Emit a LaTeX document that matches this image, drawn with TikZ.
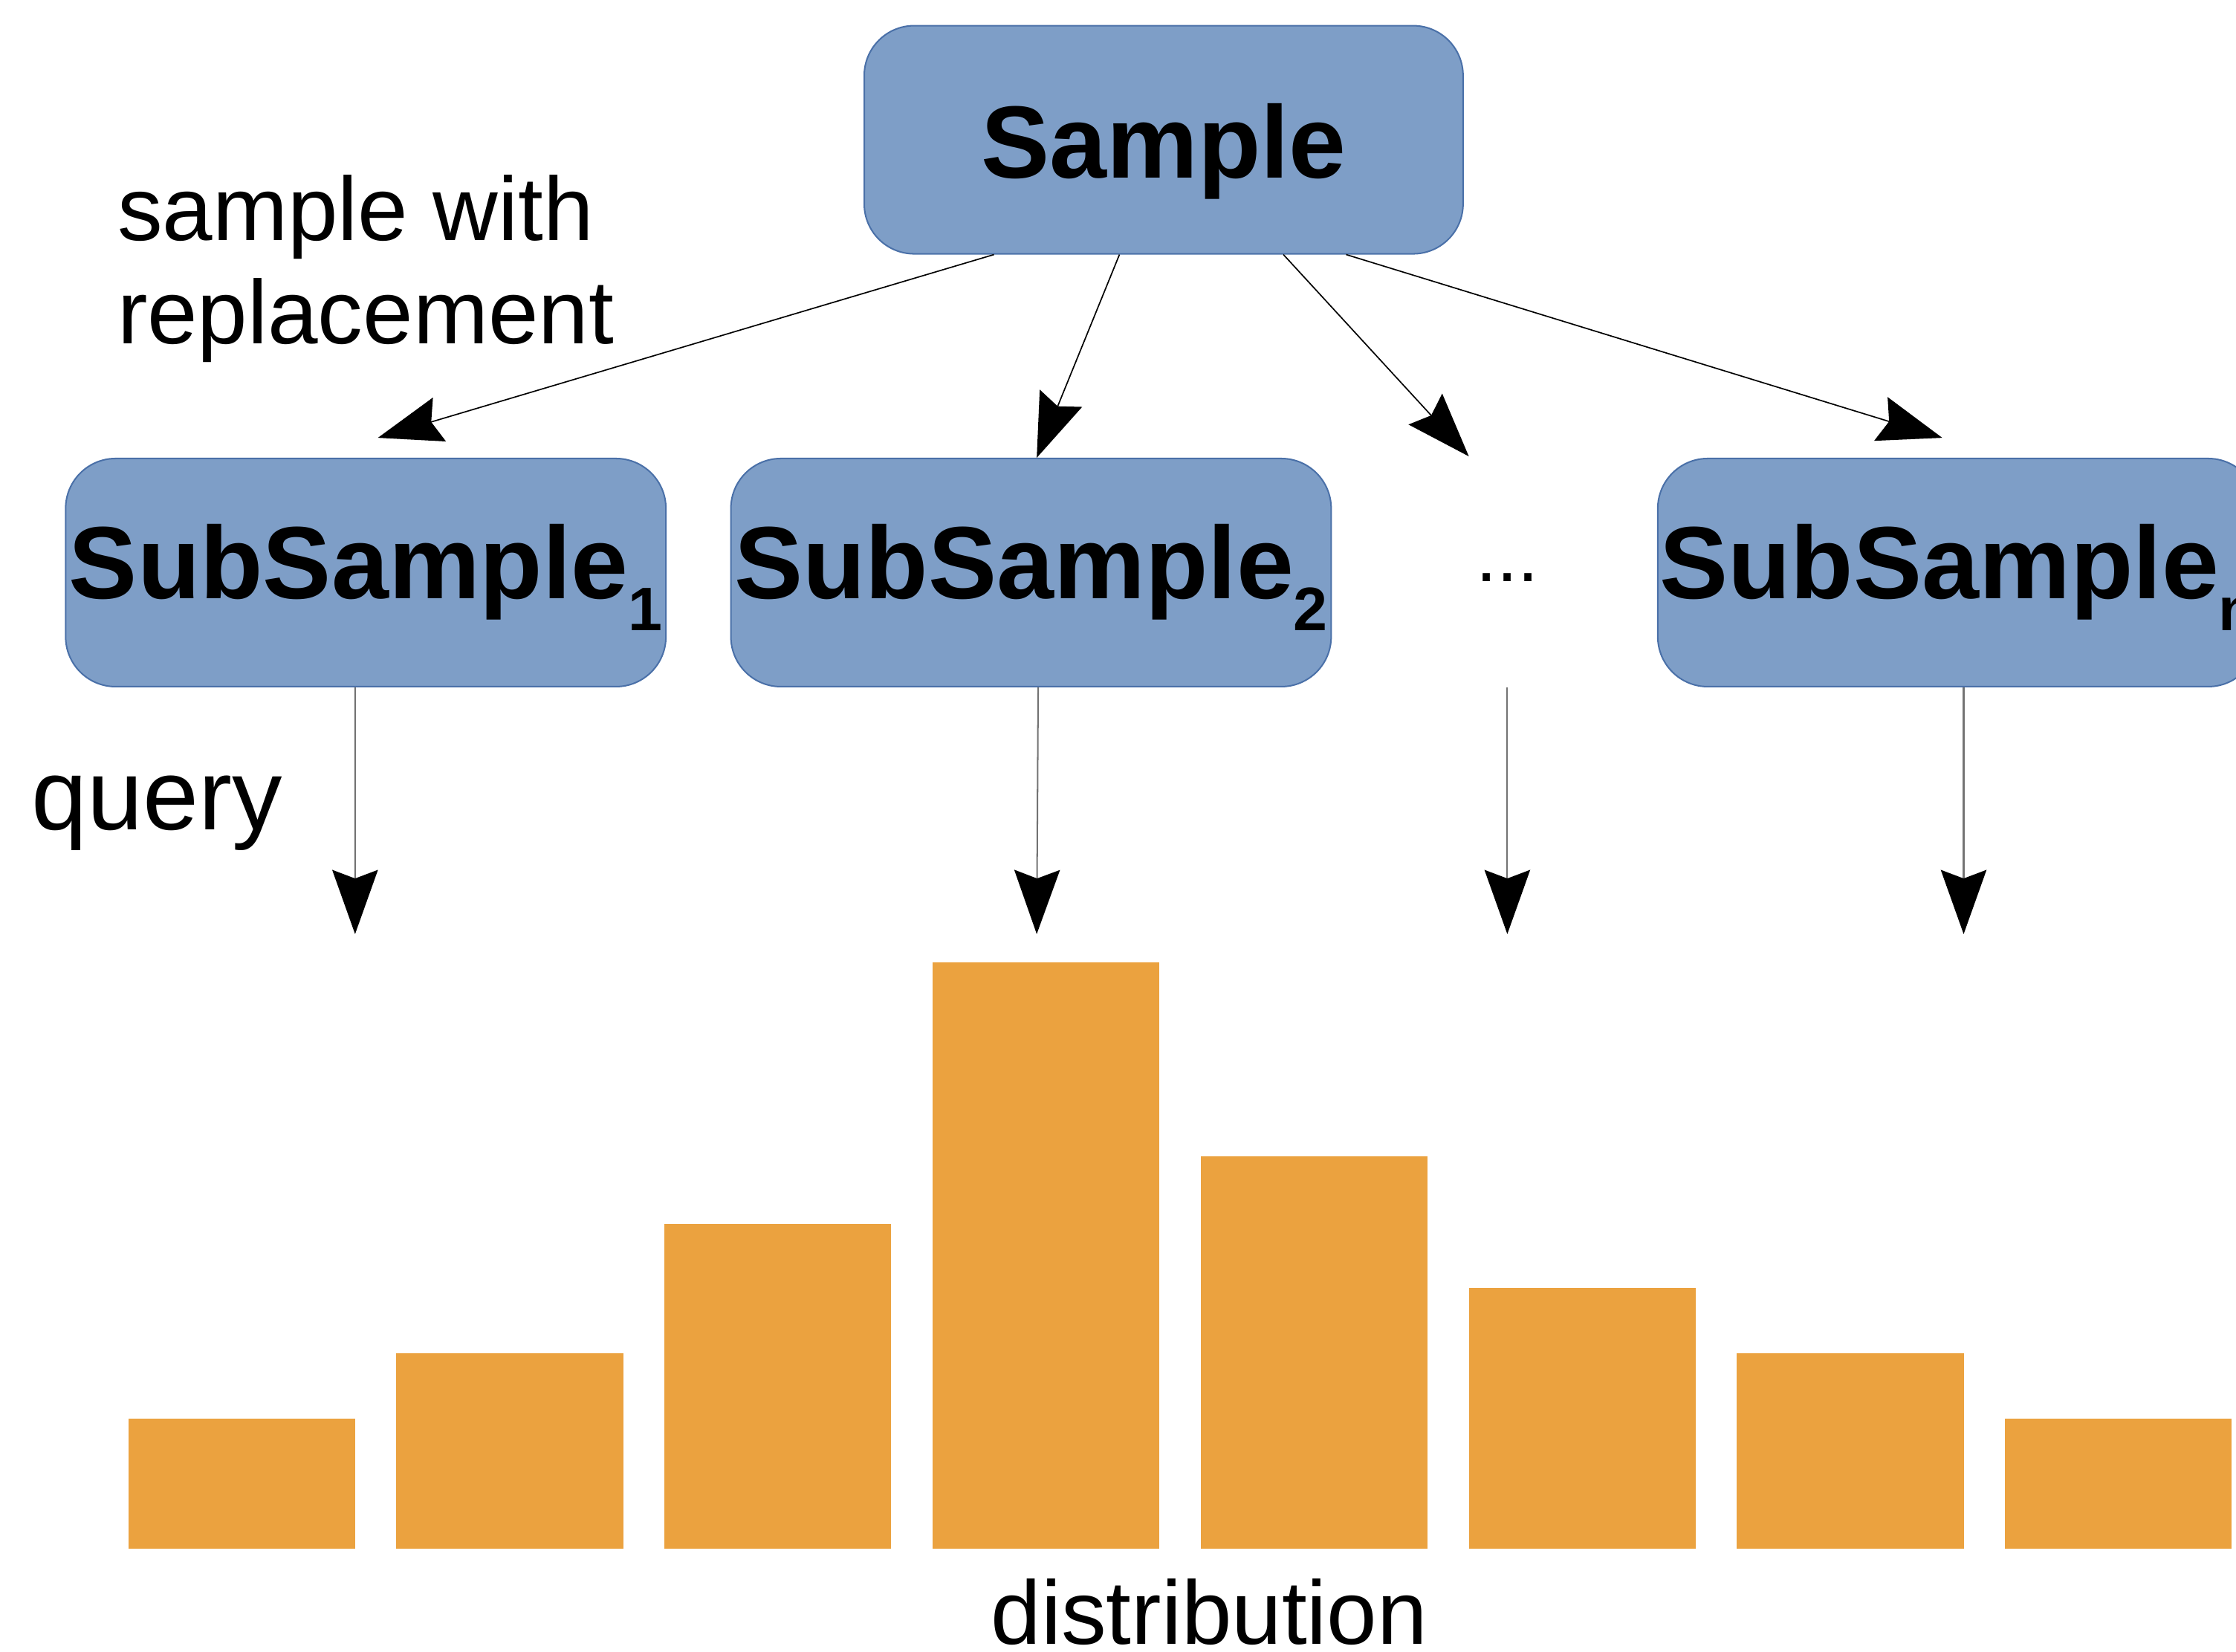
\documentclass[tikz,border=0pt]{standalone}
\usepackage{fontspec}
\setmainfont{Liberation Sans}
\usetikzlibrary{arrows.meta,calc}
\definecolor{boxfill}{RGB}{126,158,199}
\definecolor{boxline}{RGB}{74,112,168}
\definecolor{barfill}{RGB}{235,162,63}
\tikzset{
  blockbox/.style={draw=boxline, line width=0.6pt, fill=boxfill, rounded corners=0.7cm,
    minimum width=8.42cm, minimum height=3.2cm, inner sep=0pt,
    font=\fontsize{41}{45}\selectfont\bfseries, text depth=0pt},
  head/.style={-{Stealth[length=0.9cm,width=0.64cm,inset=0.12cm,color=black]}},
  fanarrow/.style={head, draw=black, line width=0.5pt},
  downarrow/.style={head, draw=black!55, line width=0.6pt},
  lbl/.style={inner sep=0pt, font=\fontsize{36}{41.2}\selectfont},
  bar/.style={fill=barfill}
}
\newcommand{\mysub}[1]{\raisebox{-12.5pt}{\fontsize{24.5}{24.5}\selectfont\bfseries #1}}
\begin{document}
\begin{tikzpicture}[x=0.02cm,y=-0.02cm]
\useasboundingbox (0,0) rectangle (1568,1158);
\clip (0,0) rectangle (1568,1158);
% boxes
\node[blockbox, minimum width=8.4cm, text height=1.08cm] (sample) at (816,98) {Sample};
\node[blockbox, text height=0.74cm] (sub1) at (256.5,401.5) {SubSample\mysub{1}};
\node[blockbox, text height=0.74cm] (sub2) at (723,401.5) {SubSample\mysub{2}};
\node[blockbox, text height=0.74cm, anchor=west] (subn) at (1162,401.5) {SubSample\mysub{n}};
\node[minimum height=3.2cm, inner sep=0pt, text height=0.26cm, text depth=0pt,
      font=\fontsize{30}{30}\selectfont] (dots) at (1057,401.5) {...};
% labels
\node[lbl, anchor=base west, align=left] (swr) at (82,241) {sample with\\replacement};
\node[lbl, anchor=base west, font=\fontsize{40}{44}\selectfont] (query) at (22,582) {query};
\node[lbl, anchor=base] (dist) at (848,1153) {distribution};
% tip coordinates
\coordinate (t1) at (265,307);
\coordinate (t2) at (727,321);
\coordinate (t3) at (1030,320);
\coordinate (t4) at (1362,307);
\coordinate (q1) at (249,655);
\coordinate (q2) at (727,655);
\coordinate (q3) at (1057,655);
\coordinate (q4) at (1377,655);
% fan-out arrows
\draw[fanarrow] ([xshift=-2.38cm]sample.south) -- (t1);
\draw[fanarrow] ([xshift=-0.62cm]sample.south) -- (t2);
\draw[fanarrow] ([xshift=1.68cm]sample.south) -- (t3);
\draw[fanarrow] ([xshift=2.56cm]sample.south) -- (t4);
% query arrows
\draw[downarrow] ([xshift=-0.15cm]sub1.south) -- (q1);
\draw[downarrow] ([xshift=0.1cm]sub2.south) -- (q2);
\draw[downarrow] (dots.south) -- (q3);
\draw[downarrow] (subn.south west -| q4) -- (q4);
% distribution bars
\fill[bar] (90,995) rectangle (249,1086);
\fill[bar] (278,949) rectangle (437,1086);
\fill[bar] (466,858) rectangle (625,1086);
\fill[bar] (654,675) rectangle (813,1086);
\fill[bar] (842,811) rectangle (1001,1086);
\fill[bar] (1030,903) rectangle (1189,1086);
\fill[bar] (1218,949) rectangle (1377,1086);
\fill[bar] (1406,995) rectangle (1565,1086);
\end{tikzpicture}
\end{document}
